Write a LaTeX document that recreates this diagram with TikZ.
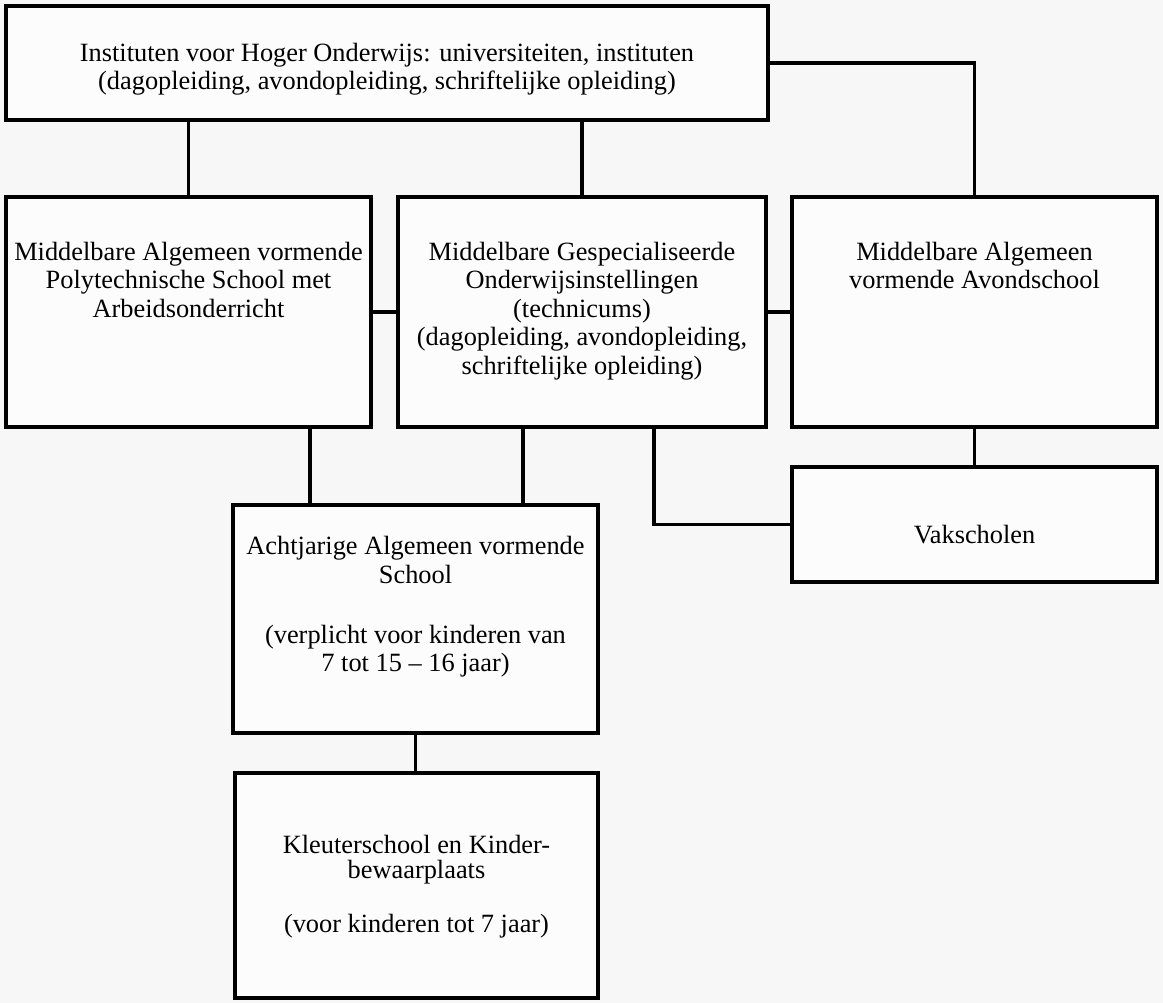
\documentclass[tikz,border=0pt]{standalone}
\usepackage{fontspec}
\setmainfont{Liberation Serif}
\usetikzlibrary{calc,positioning,backgrounds}

\begin{document}
\begin{tikzpicture}

\tikzset{schoolbox/.style={draw=black,line width=2pt,inner sep=0pt,shape=rectangle,fill=white!60!black!3},
schooltext/.style={font=\fontsize{15}{16.2}\selectfont,align=center,inner sep=0pt},
link/.style={line width=2pt}}

% Page
\useasboundingbox[fill=black!3] (0,0) rectangle (23.26,-20.06);

% Boxes
\node[schoolbox,minimum width=15.24cm,minimum height=2.28cm] (hoger) at (7.74,-1.26) {};
\node[schoolbox,minimum width=7.30cm,minimum height=4.60cm] (poly) at (3.77,-6.24) {};
\node[schoolbox,minimum width=7.36cm,minimum height=4.60cm] (techn) at (11.64,-6.24) {};
\node[schoolbox,minimum width=7.30cm,minimum height=4.60cm] (avond) at (19.49,-6.24) {};
\node[schoolbox,minimum width=7.30cm,minimum height=2.30cm] (vak) at (19.49,-10.49) {};
\node[schoolbox,minimum width=7.30cm,minimum height=4.56cm] (acht) at (8.31,-12.38) {};
\node[schoolbox,minimum width=7.26cm,minimum height=4.50cm] (kleuter) at (8.33,-17.71) {};

% Texts
\node[schooltext] (hogertxt) at ($(hoger.center)+(0,-0.12)$) {Instituten voor Hoger Onderwijs: universiteiten, instituten\\(dagopleiding, avondopleiding, schriftelijke opleiding)};
\node[schooltext,anchor=north] (polytxt) at ($(poly.north)+(0,-0.93)$) {Middelbare Algemeen vormende\\Polytechnische School met\\Arbeidsonderricht};
\node[schooltext,anchor=north] (techntxt) at ($(techn.north)+(0,-0.93)$) {Middelbare Gespecialiseerde\\Onderwijsinstellingen\\(technicums)\\(dagopleiding, avondopleiding,\\schriftelijke opleiding)};
\node[schooltext,anchor=north] (avondtxt) at ($(avond.north)+(0,-0.93)$) {Middelbare Algemeen\\vormende Avondschool};
\node[schooltext] (vaktxt) at ($(vak.center)+(0,-0.2)$) {Vakscholen};
\node[schooltext,anchor=north] (achttxt) at ($(acht.north)+(0,-0.66)$) {Achtjarige Algemeen vormende\\School\\[18pt](verplicht voor kinderen van\\7 tot 15 -- 16 jaar)};
\node[schooltext,anchor=north,font=\fontsize{15}{14}\selectfont] (kleutertxt) at ($(kleuter.north)+(0,-1.28)$) {Kleuterschool en Kinder-\\bewaarplaats\\[17pt](voor kinderen tot 7 jaar)};

% Connectors
\draw[link] (poly.north) -- (poly.north |- hoger.south); \draw[link] (techn.north) -- (techn.north |- hoger.south);
\draw[link] (hoger.east) -| (avond.north);
\draw[link] (poly.east) -- (techn.west); \draw[link] (techn.east) -- (avond.west);
\draw[link] (avond.south) -- (vak.north);
\coordinate (tvak) at ($(techn.south)+(1.44,0)$); \draw[link] (tvak) |- (vak.west);
\coordinate (pacht) at ($(poly.south)+(2.43,0)$); \draw[link] (pacht) -- (pacht |- acht.north);
\coordinate (tacht) at ($(techn.south)+(-1.18,0)$); \draw[link] (tacht) -- (tacht |- acht.north);
\draw[link] (acht.south) -- (acht.south |- kleuter.north);

\end{tikzpicture}
\end{document}
